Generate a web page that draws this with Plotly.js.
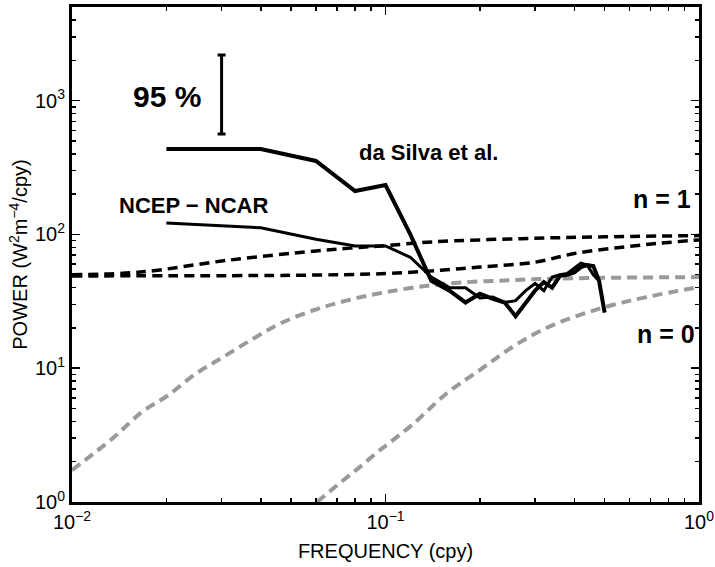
<!DOCTYPE html>
<html>
<head>
<meta charset="utf-8">
<script src="https://cdn.plot.ly/plotly-3.0.1.min.js"></script>
<style>html,body{margin:0;padding:0;background:#fff;}#chart{width:715px;height:567px;}</style>
</head>
<body>
<div id="chart"></div>
<script>
// ---- data ----
var freqSilva  = [0.02,0.04,0.06,0.08,0.10,0.12,0.14,0.16,0.18,0.20,0.22,0.24,0.26,0.28,0.30,0.32,0.34,0.36,0.38,0.40,0.42,0.44,0.46,0.48,0.50];
var powerSilva = [435,435,354,211,234,100,45,38,31,36,33,31,24.5,31,38,44,40,49,50,52,57,59,58,45,26];

var freqNcep  = [0.02,0.04,0.06,0.08,0.10,0.12,0.14,0.16,0.18,0.20,0.22,0.24,0.26,0.28,0.30,0.32,0.34,0.36,0.38,0.40,0.42,0.44,0.46,0.48];
var powerNcep = [122,112,92,82,82,67.5,48,40,40,33.5,34,31,32,38,43,38,48,50,51,56,61,59,50,45];

var freqN1a  = [0.01,0.0165,0.0312,0.0588,0.077,0.1,0.142,0.27,0.5,1.0];
var powerN1a = [50,52.3,64,75,79,82.5,88,93,96,98];

var freqN1b  = [0.01,0.05,0.1,0.15,0.2,0.3,0.4,0.56,0.75,1.0];
var powerN1b = [49,49.5,51,54,57,62,72,80,86,91];

var freqN0a  = [0.01,0.0135,0.0167,0.0201,0.025,0.0303,0.0378,0.046,0.0586,0.075,0.1,0.15,0.25,0.4,1.0];
var powerN0a = [1.73,3.0,4.7,6.2,9.2,12.1,16.6,21.5,27,32,37,42.5,45.5,47,48];

var freqN0b  = [0.0605,0.0716,0.0829,0.094,0.1016,0.122,0.157,0.2,0.254,0.326,0.417,0.53,0.68,1.0];
var powerN0b = [1.0,1.39,1.83,2.35,2.7,3.8,6.5,9.7,14.4,20,25,29.7,34,40.5];

var ciFreq = [0.03];
var ciLow = 563, ciHigh = 2193, ciMid = 1111;

var xTickVals = [0.01,0.1,1];
var xTickText = ['10<sup>\u22122</sup>','10<sup>\u22121</sup>','10<sup>0</sup>'];
var yTickVals = [1,10,100,1000];
var yTickText = ['10<sup>0</sup>','10<sup>1</sup>','10<sup>2</sup>','10<sup>3</sup>'];

function minorVals(lo, hi){ var v=[]; for(var e=lo;e<hi;e++){ for(var k=2;k<=9;k++){ v.push(k*Math.pow(10,e)); } } return v; }
var xMinor = minorVals(-2,0);
var yMinor = minorVals(0,4);

var FONT = '"Liberation Sans", Arial, Helvetica, sans-serif';
var GRAY = '#9a9a9a';
var DASH = '10px,6px';

var traces = [
  {x:freqN0a, y:powerN0a, mode:'lines', line:{color:GRAY, width:4, dash:DASH, shape:'spline', smoothing:1}},
  {x:freqN0b, y:powerN0b, mode:'lines', line:{color:GRAY, width:4, dash:DASH, shape:'spline', smoothing:1}},
  {x:freqN1a, y:powerN1a, mode:'lines', line:{color:'#000', width:3.5, dash:DASH, shape:'spline', smoothing:1}},
  {x:freqN1b, y:powerN1b, mode:'lines', line:{color:'#000', width:3.5, dash:DASH, shape:'spline', smoothing:1}},
  {x:freqNcep, y:powerNcep, mode:'lines', line:{color:'#000', width:3}},
  {x:freqSilva, y:powerSilva, mode:'lines', line:{color:'#000', width:4}},
  {x:ciFreq, y:[ciMid], mode:'markers', marker:{size:1, color:'rgba(0,0,0,0)'},
   error_y:{type:'data', symmetric:false, array:[ciHigh-ciMid], arrayminus:[ciMid-ciLow], color:'#000', thickness:3, width:4}},
  {x:[0.5], y:[10], xaxis:'x2', yaxis:'y2', mode:'markers', marker:{size:1, color:'rgba(0,0,0,0)'}, hoverinfo:'skip'}
];

var axisCommon = {
  type:'log', showgrid:false, zeroline:false, showline:true, linecolor:'#000', linewidth:3,
  mirror:'ticks', ticks:'inside', ticklen:8, tickwidth:1.5, tickcolor:'#000',
  tickmode:'array', tickfont:{family:FONT, size:20, color:'#000'}
};
var minorCommon = {
  type:'log', showgrid:false, zeroline:false, showline:false, showticklabels:false,
  mirror:'ticks', ticks:'inside', ticklen:4, tickwidth:1.5, tickcolor:'#000',
  tickmode:'array'
};

var layout = {
  width:715, height:567,
  margin:{l:72, r:16, t:7, b:65},
  paper_bgcolor:'#fff', plot_bgcolor:'#fff',
  showlegend:false,
  font:{family:FONT, color:'#000'},
  xaxis: Object.assign({}, axisCommon, {
    range:[-2,0], tickvals:xTickVals, ticktext:xTickText,
    title:{text:'FREQUENCY (cpy)', font:{family:FONT, size:20, color:'#000'}, standoff:12}
  }),
  yaxis: Object.assign({}, axisCommon, {
    range:[0,3.7], tickvals:yTickVals, ticktext:yTickText,
    title:{text:'POWER (W<sup>2</sup>m<sup>\u22124</sup>/cpy)', font:{family:FONT, size:20, color:'#000'}, standoff:2}
  }),
  xaxis2: Object.assign({}, minorCommon, {overlaying:'x', anchor:'y2', side:'bottom', range:[-2,0], tickvals:xMinor}),
  yaxis2: Object.assign({}, minorCommon, {overlaying:'y', anchor:'x2', side:'left', range:[0,3.7], tickvals:yMinor}),
  annotations:[
    {xref:'paper', yref:'paper', x:0.151, y:0.820, text:'<b>95 %</b>', showarrow:false, xanchor:'center', yanchor:'middle', font:{family:FONT, size:30, color:'#000'}},
    {xref:'paper', yref:'paper', x:0.4545, y:0.707, text:'<b>da Silva et al.</b>', showarrow:false, xanchor:'left', yanchor:'middle', font:{family:FONT, size:22, color:'#000'}},
    {xref:'paper', yref:'paper', x:0.0718, y:0.598, text:'<b>NCEP \u2212 NCAR</b>', showarrow:false, xanchor:'left', yanchor:'middle', font:{family:FONT, size:22, color:'#000'}},
    {xref:'paper', yref:'paper', x:0.99, y:0.612, text:'<b>n = 1</b>', showarrow:false, xanchor:'right', yanchor:'middle', font:{family:FONT, size:25, color:'#000'}},
    {xref:'paper', yref:'paper', x:0.997, y:0.339, text:'<b>n = 0</b>', showarrow:false, xanchor:'right', yanchor:'middle', font:{family:FONT, size:25, color:'#000'}}
  ]
};

Plotly.newPlot('chart', traces, layout, {displayModeBar:false, staticPlot:true});
</script>
</body>
</html>
